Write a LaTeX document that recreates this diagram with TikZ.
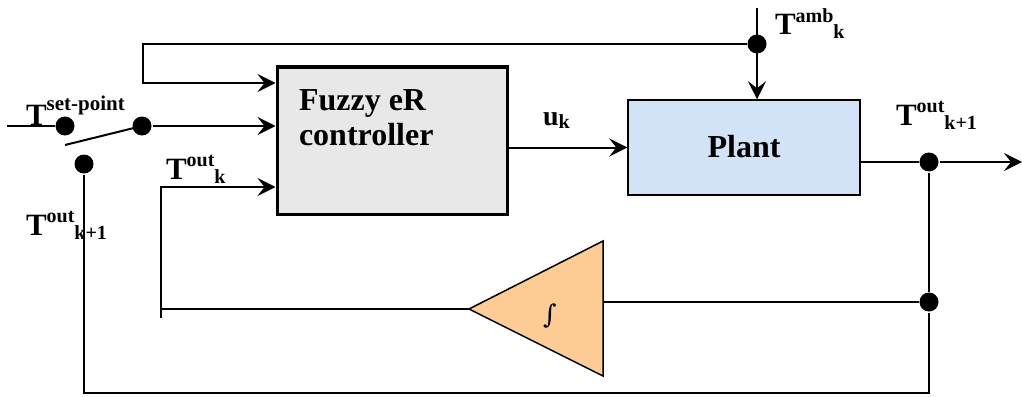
\documentclass[tikz,border=0pt]{standalone}
\usepackage{fontspec}
\setmainfont{Liberation Serif}
\newfontfamily\intfont{DejaVu Serif}
\usetikzlibrary{arrows.meta}
\definecolor{ctrlfill}{RGB}{232,232,232}
\definecolor{plantfill}{RGB}{210,227,247}
\definecolor{intfill}{RGB}{253,203,148}
\newcommand\Tlab[2]{T\raisebox{13pt}{\fontsize{20}{20}\selectfont #1}\raisebox{-4pt}{\fontsize{20}{20}\selectfont #2}}
\begin{document}
\begin{tikzpicture}[x=1pt,y=-1pt,line width=2pt,
  arr/.style={-{Stealth[length=18pt,width=18pt,inset=7pt]}},
  dotn/.style={circle,fill=black,inner sep=0pt,minimum size=19pt},
  lbl/.style={font=\bfseries\fontsize{31}{31}\selectfont,inner sep=0pt,anchor=base west},
  boxtxt/.style={font=\bfseries\fontsize{32}{32}\selectfont,inner sep=0pt,anchor=base west}]
\useasboundingbox (0,0) rectangle (1022,396);
% blocks
\node[draw,line width=3pt,fill=ctrlfill,minimum width=230pt,minimum height=147pt,inner sep=0pt] (ctrl) at (392,140.5) {};
\node[boxtxt] (ctrl1) at (298,110) {Fuzzy eR};
\node[boxtxt] (ctrl2) at (298,145) {controller};
\node[draw,line width=1.5pt,fill=plantfill,minimum width=232pt,minimum height=95pt,inner sep=0pt] (plant) at (744,147.5) {};
\node[font=\bfseries\fontsize{32}{32}\selectfont,inner sep=0pt] (plantlbl) at (744,147) {Plant};
% integrator
\coordinate (tipL) at (469,309);
\coordinate (triT) at (603,241);
\coordinate (triB) at (603,376);
\coordinate (triR) at (603,302);
\fill[intfill] (tipL) -- (triT) -- (triB) -- cycle;
\draw[line width=1.5pt] (tipL) -- (triT) -- (triB) -- cycle;
\node[inner sep=0pt,font=\intfont\fontsize{26}{26}\selectfont] (intg) at (550,316) {∫};
% dots
\node[dotn] (d1) at (65,126) {};
\node[dotn] (d2) at (142,126) {};
\node[dotn] (d3) at (84,164) {};
\node[dotn] (damb) at (757,44) {};
\node[dotn] (dout) at (929,162) {};
\node[dotn] (dfb) at (929,302) {};
% coordinates
\coordinate (spin) at (7,126);
\coordinate (blade) at (65,145);
\coordinate (ambtop) at (757,8);
\coordinate (c1) at (143,44);
\coordinate (c2) at (143,83);
\coordinate (fbtop) at (161,187);
\coordinate (fbbot) at (161,318);
\coordinate (pout) at (860,162);
\coordinate (oend) at (1022,162);
\coordinate (br) at (929,393);
\coordinate (bl) at (84,393);
\coordinate (cout) at (507,147.5);
% connectors
\draw (spin) -- (d1);
\draw (d2.center) -- (blade);
\draw[arr] (d2) -- (d2 -| ctrl.west);
\draw[arr] (ambtop) -- (plant.north -| ambtop);
\draw[arr] (damb) -- (c1) -- (c2) -- (c2 -| ctrl.west);
\draw[arr] (fbbot) -- (fbtop) -- (fbtop -| ctrl.west);
\draw (tipL) -- (tipL -| fbtop);
\draw[arr] (cout) -- (plant.west);
\draw (pout) -- (dout);
\draw[arr] (dout) -- (oend);
\draw (dout) -- (dfb) -- (br) -- (bl) -- (d3);
\draw (dfb) -- (triR);
% labels
\node[lbl] (lsp) at (25,125) {T\raisebox{15pt}{\fontsize{21}{21}\selectfont set-point}};
\node[lbl] (lok) at (165,179) {\Tlab{out}{k}};
\node[lbl] (lok1) at (25,235) {\Tlab{out}{k+1}};
\node[lbl] (lamb) at (774,35) {\Tlab{amb}{k}};
\node[lbl] (lrk1) at (895,125) {\Tlab{out}{k+1}};
\node[lbl] (luk) at (542,125) {\fontsize{28}{28}\selectfont u\raisebox{-3pt}{\fontsize{20}{20}\selectfont k}};
\end{tikzpicture}
\end{document}
